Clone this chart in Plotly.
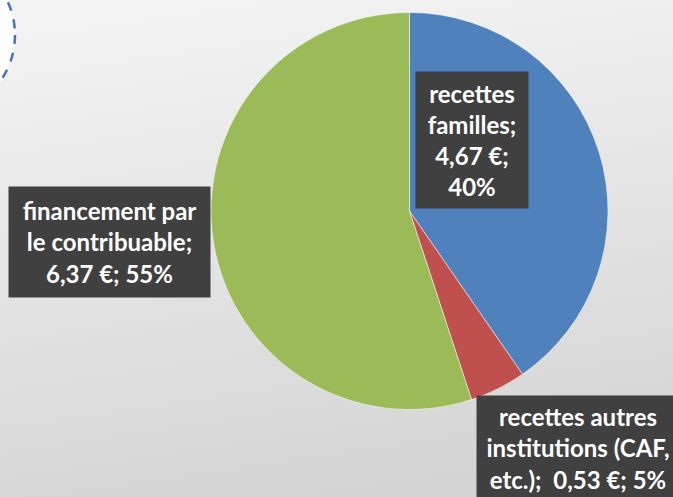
import base64
import plotly.graph_objects as go

# Data
categories = ["recettes familles", "recettes autres institutions (CAF, etc.)", "financement par le contribuable"]
values = [4.67, 0.53, 6.37]
value_labels = ["4,67 €", "0,53 €", "6,37 €"]
percent_labels = ["40%", "5%", "55%"]
colors = ["#4F81BD", "#C0504D", "#9BBB59"]

W, H = 673, 497

fig = go.Figure()

# Pie: center ~ (409.5, 211) px, radius ~198 px
cx, cy, r = 409.5, 211, 198.5
fig.add_trace(go.Pie(
    labels=categories,
    values=values,
    sort=False,
    direction="clockwise",
    rotation=0,
    textinfo="none",
    hoverinfo="label+value+percent",
    marker=dict(colors=colors, line=dict(color="rgba(255,255,255,0.5)", width=1)),
    domain=dict(x=[(cx - r) / W, (cx + r) / W], y=[(H - cy - r) / H, (H - cy + r) / H]),
    showlegend=False,
))

# Background gradient as SVG image
svg = f'''<svg xmlns="http://www.w3.org/2000/svg" width="{W}" height="{H}" viewBox="0 0 {W} {H}" preserveAspectRatio="none">
<defs><linearGradient id="g" x1="0.3" y1="0" x2="0.5" y2="1">
<stop offset="0" stop-color="#f3f3f3"/><stop offset="1" stop-color="#d4d4d4"/></linearGradient></defs>
<rect width="{W}" height="{H}" fill="url(#g)"/></svg>'''
src = "data:image/svg+xml;base64," + base64.b64encode(svg.encode()).decode()

label_font = dict(family="Lato, Calibri, 'Open Sans', sans-serif", size=24, color="white", weight="bold")

labels_text = [
    f"recettes<br>familles;<br>{value_labels[0]};<br>{percent_labels[0]}",
    f"recettes autres<br>institutions (CAF,<br>etc.);  {value_labels[1]}; {percent_labels[1]}",
    f"financement par<br>le contribuable;<br>{value_labels[2]}; {percent_labels[2]}",
]
# (center x px, center y px, width, height)
boxes = [(472.5, 140, 112, 136), (578, 448, 202, 104), (109, 242, 201, 110)]

annotations = []
for t, (bx, by, bw, bh) in zip(labels_text, boxes):
    annotations.append(dict(
        text=t, x=bx / W, y=1 - by / H, xref="paper", yref="paper",
        xanchor="center", yanchor="middle", showarrow=False,
        font=label_font, bgcolor="#404040", borderpad=0,
        width=bw, height=bh, align="center", valign="middle",
    ))

# Dashed circle in top-left corner
ccx, ccy, cr = -65, 35, 80
shapes = [dict(
    type="circle", xref="paper", yref="paper",
    x0=(ccx - cr) / W, x1=(ccx + cr) / W,
    y0=1 - (ccy + cr) / H, y1=1 - (ccy - cr) / H,
    fillcolor="white", line=dict(color="#4472C4", width=2.5, dash="dash"),
    layer="below",
)]

fig.update_layout(
    width=W, height=H,
    margin=dict(l=0, r=0, t=0, b=0),
    paper_bgcolor="#e4e4e4",
    plot_bgcolor="rgba(0,0,0,0)",
    images=[dict(source=src, xref="paper", yref="paper", x=0, y=1, sizex=1, sizey=1,
                 sizing="stretch", layer="below", xanchor="left", yanchor="top")],
    shapes=shapes,
    annotations=annotations,
)

fig.write_html("out.html", config={"displayModeBar": False},
               post_script="document.body.style.margin='0';document.body.style.overflow='hidden';")
